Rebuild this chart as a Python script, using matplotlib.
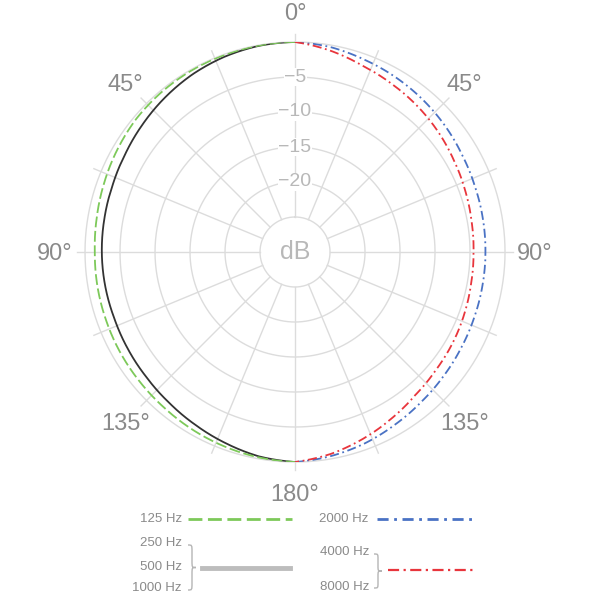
import matplotlib.pyplot as plt
import numpy as np
from matplotlib.lines import Line2D
from matplotlib.path import Path
from matplotlib.patches import PathPatch

# measured pattern, dB relative to on-axis, every 10 degrees from 0 (front) to 180 (rear)
angles = np.arange(0, 181, 10)
db_125 = [0, -0.05, -0.1, -0.15, -0.25, -0.4, -0.7, -1.0, -1.25, -1.4,
          -1.35, -1.3, -1.2, -1.1, -0.95, -0.7, -0.45, -0.2, 0]
db_250_1000 = [0, -0.1, -0.35, -0.7, -1.15, -1.6, -2.0, -2.25, -2.35, -2.4,
               -2.45, -2.5, -2.4, -2.25, -1.95, -1.5, -0.95, -0.35, 0]
db_2000 = [0, -0.3, -0.8, -1.2, -1.6, -2.0, -2.4, -2.65, -2.75, -2.8,
           -2.8, -2.75, -2.6, -2.35, -2.0, -1.5, -0.9, -0.4, 0]
db_4000_8000 = [0, -0.8, -1.7, -2.3, -2.8, -3.3, -3.8, -4.15, -4.4, -4.5,
                -4.45, -4.25, -4.0, -3.75, -3.3, -2.5, -1.6, -0.7, 0]

ring_levels = [-25, -20, -15, -10, -5, 0]
ring_text = {-5: '−5', -10: '−10', -15: '−15', -20: '−20'}
angle_ticks = [0, 45, 90, 135, 180]

green = '#7dc95a'
black = '#333333'
blue = '#4a72c4'
red = '#e8353c'
grid_c = '#dcdcdc'
text_c = '#8a8a8a'

plt.rcParams['font.family'] = ['Liberation Sans', 'DejaVu Sans']

fig = plt.figure(figsize=(6, 6), dpi=100)
ax = fig.add_axes([0.1417, 0.23, 0.7, 0.7], projection='polar')
ax.set_theta_zero_location('N')
ax.set_ylim(-30, 0)
ax.axis('off')

# grid
th = np.linspace(0, 2 * np.pi, 721)
for lvl in ring_levels:
    ax.plot(th, np.full_like(th, lvl), color=grid_c, lw=1, zorder=1, clip_on=False)
for a in np.arange(0, 360, 22.5):
    ax.plot([np.deg2rad(a)] * 2, [-25, 1.1], color=grid_c, lw=1, zorder=1, clip_on=False)

for lvl, s in ring_text.items():
    ax.text(0, lvl, s, ha='center', va='center', color='#b8b8b8', fontsize=14,
            bbox=dict(fc='white', ec='none', pad=0.3), zorder=2)
ax.text(0, -30, 'dB', ha='center', va='center', color='#b8b8b8', fontsize=18, zorder=2)

for a in angle_ticks:
    for sgn in ([1] if a in (0, 180) else [1, -1]):
        ax.text(np.deg2rad(sgn * a), 4.3, f'{a}°', ha='center', va='center_baseline',
                color=text_c, fontsize=17, clip_on=False)


def curve(theta, vals, **kw):
    ln, = ax.plot(theta, vals, **kw)
    # follow the polar grid between samples instead of straight chords
    ln.get_path()._interpolation_steps = 16
    return ln


# curves: low frequencies on the left, high frequencies on the right
t = np.deg2rad(angles)
curve(t, db_250_1000, color=black, lw=1.3, zorder=3)
curve(t, db_125, color=green, lw=1.3, ls=(0, (6, 2)), zorder=4)
curve(-t, db_2000, color=blue, lw=1.3, ls=(0, (5, 2, 1, 2)), zorder=3)
curve(-t, db_4000_8000, color=red, lw=1.3, ls=(0, (5, 2, 1, 2)), zorder=4)


# legend, drawn in figure pixels
def fx(x):
    return x / 600


def fy(y):
    return 1 - y / 600


def label(x, y, s):
    fig.text(fx(x), fy(y), s, ha='right', va='center', color=text_c, fontsize=9.5)


def hline(x0, x1, y, **kw):
    fig.add_artist(Line2D([fx(x0), fx(x1)], [fy(y), fy(y)], transform=fig.transFigure, **kw))


def brace(x0, yt, yb, w=8):
    ym = (yt + yb) / 2
    xm = x0 + w / 2
    q = (yb - yt) * 0.15
    pts = [(x0, yt), (xm, yt), (xm, yt), (xm, yt + q),
           (xm, ym - q), (xm, ym), (xm, ym), (x0 + w, ym),
           (xm, ym), (xm, ym), (xm, ym + q),
           (xm, yb - q), (xm, yb), (xm, yb), (x0, yb)]
    codes = [Path.MOVETO, Path.CURVE4, Path.CURVE4, Path.CURVE4,
             Path.LINETO, Path.CURVE4, Path.CURVE4, Path.CURVE4,
             Path.CURVE4, Path.CURVE4, Path.CURVE4,
             Path.LINETO, Path.CURVE4, Path.CURVE4, Path.CURVE4]
    p = Path([(fx(x), fy(y)) for x, y in pts], codes)
    fig.add_artist(PathPatch(p, fc='none', ec='#b5b5b5', lw=1, transform=fig.transFigure))


label(182, 519, '125 Hz')
hline(188, 292, 519, color=green, lw=2, ls=(0, (5, 2)))
label(368, 519, '2000 Hz')
hline(377, 472, 519, color=blue, lw=2, ls=(0, (4, 2, 1, 2)))

label(182, 543, '250 Hz')
label(182, 567, '500 Hz')
label(182, 588, '1000 Hz')
brace(188, 545, 590)
hline(202, 290, 568, color='#bdbdbd', lw=3.5)

label(369, 552, '4000 Hz')
label(369, 587, '8000 Hz')
brace(374, 554, 588)
hline(388, 475, 570, color=red, lw=1.6, ls=(0, (5, 2, 1, 2)))

fig.savefig('out.png', dpi=100, facecolor='white')
